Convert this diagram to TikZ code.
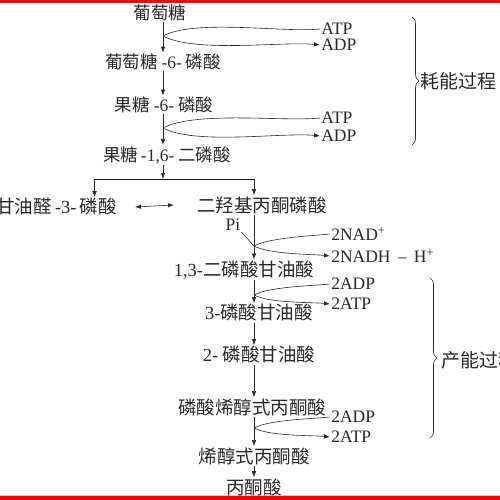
\documentclass[tikz,border=0pt]{standalone}
\usepackage{fontspec}
\setmainfont{Liberation Serif}
\newfontfamily\cjk{Noto Sans CJK SC}
\usepackage{xcolor}
\usepackage{tikz}
\usetikzlibrary{positioning}
\usetikzlibrary{arrows.meta,
                decorations.pathreplacing}
\definecolor{barred}{RGB}{255,0,0}
\definecolor{ink}{RGB}{40,40,40}

\begin{document}
\begin{tikzpicture}[
      x=1pt, y=-1pt,
      color=ink, line width=0.6pt,
      cmpd/.style={inner sep=1pt, font=\cjk\fontsize{17.5}{19}\selectfont},
      cmpdlow/.style={inner sep=1pt, font=\cjk\fontsize{18.5}{20}\selectfont},
      side/.style={inner sep=1pt, anchor=west, font=\fontsize{17.5}{19}\selectfont},
      stage/.style={inner sep=0pt, anchor=west, font=\cjk\fontsize{19}{21}\selectfont},
      flow/.style={-{Latex[length=6pt,width=4.5pt]}},
      upper/.style={out=28,in=186,looseness=0.6},
      lower/.style={out=-28,in=174,looseness=0.6},
      mybrace/.style={decorate, decoration={brace, amplitude=7pt}}
      ]
      \useasboundingbox (0,0) rectangle (500,500);
      \fill[barred] (0,0) rectangle (500,3.5);
      \fill[barred] (0,496) rectangle (500,500);
      \draw[gray!40] (0,495) -- (500,495);

      % upper chain
      \node[cmpd] (glc) at (160,13) {葡萄糖};
      \node[cmpd] (g6p) at (163,62) {葡萄糖 {\rmfamily -6-} 磷酸};
      \node[cmpd] (f6p) at (164,105) {果糖 {\rmfamily -6-} 磷酸};
      \node[cmpd] (fbp) at (167,155) {果糖{\rmfamily\,-1,6-} 二磷酸};
      \coordinate (top) at (163,0);
      \coordinate (j1) at (163,36);
      \coordinate (j2) at (163,128);
      \coordinate (fork) at (163,179);

      \node[side] (atp1) at (320,29) {ATP};
      \node[side] (adp1) at (320,45) {ADP};
      \node[side] (atp2) at (320,118) {ATP};
      \node[side] (adp2) at (320,136) {ADP};

      % split
      \node[cmpdlow, anchor=east] (gap) at (118,207) {甘油醛{\rmfamily\,-3-\,}磷酸};
      \node[cmpdlow] (dhap) at (262,205) {二羟基丙酮磷酸};

      % lower chain
      \coordinate (axis) at (254,0);
      \node[side, anchor=center] (pi) at (233,225) {Pi};
      \coordinate (j3) at (254,246);
      \node[cmpdlow] (bpg) at (244,270) {{\rmfamily 1,3-}二磷酸甘油酸};
      \coordinate (j4) at (254,295);
      \node[cmpdlow] (pg3) at (259,313) {{\rmfamily 3-}磷酸甘油酸};
      \node[cmpdlow] (pg2) at (259,355) {{\rmfamily 2-} 磷酸甘油酸};
      \node[cmpdlow] (pep) at (252,407) {磷酸烯醇式丙酮酸};
      \coordinate (j5) at (254,428);
      \node[cmpdlow] (enol) at (254,456) {烯醇式丙酮酸};
      \node[cmpdlow] (pyr) at (254,487) {丙酮酸};

      \node[side] (nad) at (330,234) {2NAD\textsuperscript{+}};
      \node[side] (nadh) at (330,256) {2NADH \,--\, H\textsuperscript{+}};
      \node[side] (adp3) at (330,284) {2ADP};
      \node[side] (atp3) at (330,304) {2ATP};
      \node[side] (adp4) at (330,417) {2ADP};
      \node[side] (atp4) at (330,437) {2ATP};

      % main arrows
      \draw[flow] (glc.south -| top) -- (g6p.north -| top);
      \draw[flow] (g6p.south -| top) -- (f6p.north -| top);
      \draw[flow] (f6p.south -| top) -- (fbp.north -| top);
      \draw[flow] (fbp.south -| top) -- (fork);
      \draw[flow] (fork) -| ([xshift=38pt]gap.north);
      \draw[flow] (fork) -| (dhap.north -| axis);
      \draw[{Latex[length=6pt,width=4.5pt]}-{Latex[length=6pt,width=4.5pt]}]
        ([xshift=17pt]gap.east) -- ([xshift=-22pt]dhap.west);
      \draw[flow] (dhap.south -| axis) -- (bpg.north -| axis);
      \draw[flow] (bpg.south -| axis) -- (pg3.north -| axis);
      \draw[flow] (pg3.south -| axis) -- (pg2.north -| axis);
      \draw[flow] (pg2.south -| axis) -- (pep.north -| axis);
      \draw[flow] (pep.south -| axis) -- (enol.north -| axis);
      \draw[flow] (enol.south -| axis) -- (pyr.north -| axis);

      % side reactions
      \draw (j1) to[upper] (atp1.west);
      \draw[flow] (j1) to[lower] (adp1.west);
      \draw (j2) to[upper] (atp2.west);
      \draw[flow] (j2) to[lower] (adp2.west);
      \draw (pi.south east) -- (j3);
      \draw (j3) to[upper] (nad.west);
      \draw[flow] (j3) to[lower] (nadh.west);
      \draw (j4) to[upper] (adp3.west);
      \draw[flow] (j4) to[lower] (atp3.west);
      \draw (j5) to[upper] (adp4.west);
      \draw[flow] (j5) to[lower] (atp4.west);

      % stages
      \draw[mybrace] (412,17) -- (412,145);
      \node[stage] (hao) at (420,81) {耗能过程};
      \draw[mybrace] (430,278) -- (430,438);
      \node[stage] (chan) at (441,360) {产能过程};

    \end{tikzpicture}
\end{document}
